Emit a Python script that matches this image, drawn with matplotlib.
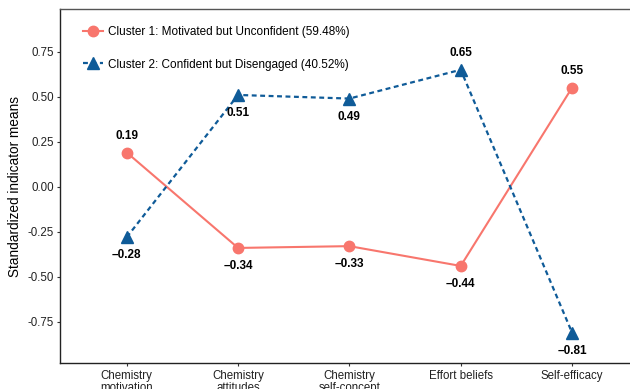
import matplotlib
matplotlib.use("Agg")
import matplotlib.pyplot as plt
from matplotlib.lines import Line2D

categories = ["Chemistry\nmotivation", "Chemistry\nattitudes", "Chemistry\nself-concept",
              "Effort beliefs", "Self-efficacy"]
cluster1 = [0.19, -0.34, -0.33, -0.44, 0.55]
cluster2 = [-0.28, 0.51, 0.49, 0.65, -0.81]
label1 = "Cluster 1: Motivated but Unconfident (59.48%)"
label2 = "Cluster 2: Confident but Disengaged (40.52%)"
yticks = [-0.75, -0.50, -0.25, 0.00, 0.25, 0.50, 0.75]
c1_above = [True, False, False, False, True]
c2_above = [False, False, False, True, False]

plt.rcParams['font.family'] = ['Liberation Sans', 'DejaVu Sans']
plt.rcParams['axes.unicode_minus'] = False

C1 = '#F8766D'
C2 = '#0F5B98'

fig = plt.figure(figsize=(6.3, 3.89), dpi=100)
ax = fig.add_axes([60/630, 25.7/389, 578.8/630, 354/389])

x = list(range(len(categories)))
ax.plot(x, cluster1, color=C1, lw=1.5, marker='o', ms=7.5, zorder=3)
ax.plot(x, cluster2, color=C2, lw=1.6, ls=(0, (2.2, 1.6)), marker='^', ms=8.5, zorder=3)

def fmt(v):
    s = f"{abs(v):.2f}"
    return ("\u2013" + s) if v < 0 else s

for xi, v, up in zip(x, cluster1, c1_above):
    ax.annotate(fmt(v), (xi, v), xytext=(0, 12 if up else -13), textcoords='offset points',
                ha='center', va='center', fontsize=8.5, fontweight='bold', color='black')
for xi, v, up in zip(x, cluster2, c2_above):
    ax.annotate(fmt(v), (xi, v), xytext=(0, 12 if up else -13), textcoords='offset points',
                ha='center', va='center', fontsize=8.5, fontweight='bold', color='black')

ax.set_xlim(-0.6, 4.6)
ax.set_ylim(-0.981, 0.986)
ax.set_xticks(x)
ax.set_xticklabels(categories, fontsize=8.3, color='#222222', linespacing=1.0)
ax.set_yticks(yticks)
ax.set_yticklabels([f"{t:.2f}" for t in yticks], fontsize=8.3, color='#222222')
ax.tick_params(axis='both', direction='out', length=2.5, width=0.8, color='#333333', pad=2)
ax.set_ylabel("Standardized indicator means", fontsize=9.8, labelpad=4)
for sp in ax.spines.values():
    sp.set_linewidth(1.0)
    sp.set_color('#222222')
ax.spines['top'].set_color('#555555')

handles = [Line2D([], [], color=C1, lw=1.5, marker='o', ms=7.5),
           Line2D([], [], color=C2, lw=1.6, ls=(0, (2.2, 1.6)), marker='^', ms=8.5)]
ax.legend(handles, [label1, label2], loc='upper left', bbox_to_anchor=(23/578.8, 1 - 17/354),
          frameon=False, fontsize=8.5, handlelength=1.7, handletextpad=0.45,
          labelspacing=1.72, borderpad=0, borderaxespad=0)

fig.savefig("out.png", dpi=100)
